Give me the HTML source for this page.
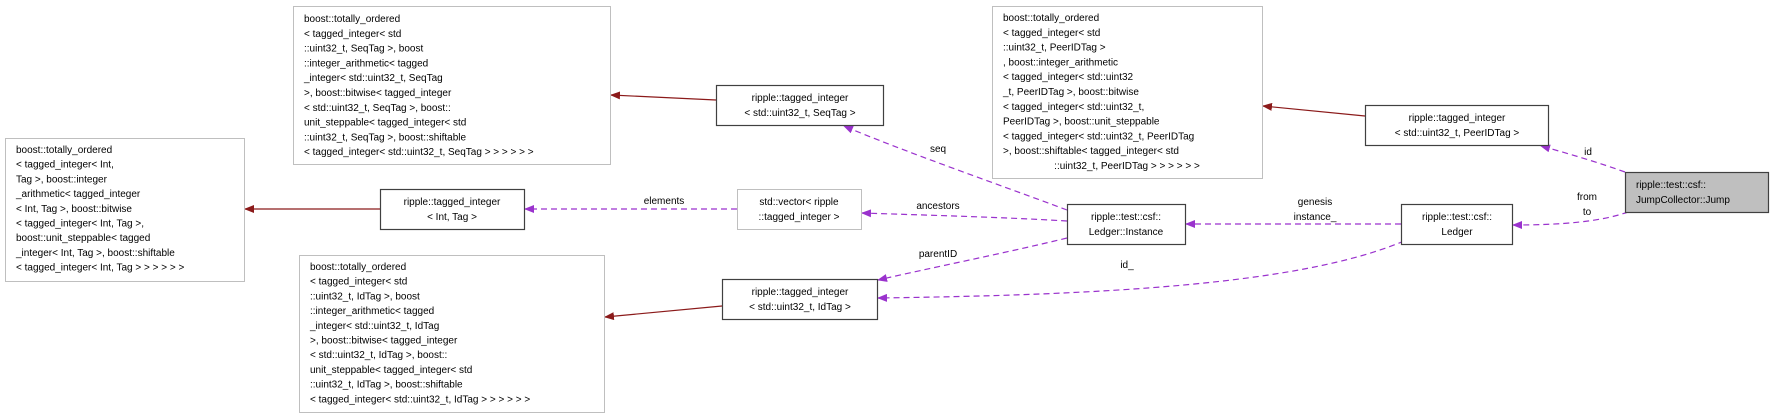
<!DOCTYPE html>
<html><head><meta charset="utf-8"><style>
html,body{margin:0;padding:0;background:#fff;}
svg{display:block;}
text{font-family:"Liberation Sans",sans-serif;font-size:10px;fill:#000;}
</style></head><body>
<svg width="1773" height="418" viewBox="0 0 1773 418" xmlns="http://www.w3.org/2000/svg">
<defs>
<marker id="ap" markerWidth="10" markerHeight="8" refX="9" refY="4" orient="auto" markerUnits="userSpaceOnUse"><path d="M0,0 L10,4 L0,8 z" fill="#9a32cd"/></marker>
<marker id="ar" markerWidth="10" markerHeight="8" refX="9" refY="4" orient="auto" markerUnits="userSpaceOnUse"><path d="M0,0 L10,4 L0,8 z" fill="#8b1a1a"/></marker>
</defs>
<g fill="none" stroke-width="1.2">
<path d="M716,100 L611,95" stroke="#8b1a1a" marker-end="url(#ar)"/>
<path d="M380,209 L245,209" stroke="#8b1a1a" marker-end="url(#ar)"/>
<path d="M722,306 L605,317" stroke="#8b1a1a" marker-end="url(#ar)"/>
<path d="M1365,116 L1263,106" stroke="#8b1a1a" marker-end="url(#ar)"/>
<g stroke="#9a32cd" stroke-dasharray="6,4">
<path d="M737,209 L525,209" marker-end="url(#ap)"/>
<path d="M1067,210 C1000,185 900,150 844,126" marker-end="url(#ap)"/>
<path d="M1067,221 C1000,217 920,215 862,213" marker-end="url(#ap)"/>
<path d="M1067,238 C1010,252 930,268 878,280" marker-end="url(#ap)"/>
<path d="M1404,241 C1300,285 1100,295 878,298" marker-end="url(#ap)"/>
<path d="M1401,224 L1186,224" marker-end="url(#ap)"/>
<path d="M1628,212 C1600,222 1560,225 1513,225" marker-end="url(#ap)"/>
<path d="M1625,172 C1600,163 1570,154 1541,146" marker-end="url(#ap)"/>
</g>
</g>
<g fill="#fff" stroke="#bfbfbf" stroke-width="1">
<rect x="293.5" y="6.5" width="317" height="158"/>
<rect x="5.5" y="138.5" width="239" height="143"/>
<rect x="299.5" y="255.5" width="305" height="157"/>
<rect x="992.5" y="6.5" width="270" height="172"/>
<rect x="737.5" y="189.5" width="124" height="40"/>
</g>
<g fill="#fff" stroke="#404040" stroke-width="1.2">
<rect x="716.5" y="85.5" width="167" height="40"/>
<rect x="380.5" y="189.5" width="144" height="40"/>
<rect x="722.5" y="279.5" width="155" height="40"/>
<rect x="1365.5" y="105.5" width="183" height="40"/>
<rect x="1067.5" y="204.5" width="118" height="40"/>
<rect x="1401.5" y="204.5" width="111" height="40"/>
<rect x="1625.5" y="172.5" width="143" height="40" fill="#bfbfbf"/>
</g>
<text x="304" y="22">boost::totally_ordered</text>
<text x="304" y="36.8">&lt; tagged_integer&lt; std</text>
<text x="304" y="51.6">::uint32_t, SeqTag &gt;, boost</text>
<text x="304" y="66.4">::integer_arithmetic&lt; tagged</text>
<text x="304" y="81.2">_integer&lt; std::uint32_t, SeqTag</text>
<text x="304" y="96"> &gt;, boost::bitwise&lt; tagged_integer</text>
<text x="304" y="110.8">&lt; std::uint32_t, SeqTag &gt;, boost::</text>
<text x="304" y="125.6">unit_steppable&lt; tagged_integer&lt; std</text>
<text x="304" y="140.4">::uint32_t, SeqTag &gt;, boost::shiftable</text>
<text x="304" y="155.2">&lt; tagged_integer&lt; std::uint32_t, SeqTag &gt; &gt; &gt; &gt; &gt; &gt;</text>
<text x="16" y="153">boost::totally_ordered</text>
<text x="16" y="167.7">&lt; tagged_integer&lt; Int,</text>
<text x="16" y="182.4"> Tag &gt;, boost::integer</text>
<text x="16" y="197.1">_arithmetic&lt; tagged_integer</text>
<text x="16" y="211.8">&lt; Int, Tag &gt;, boost::bitwise</text>
<text x="16" y="226.5">&lt; tagged_integer&lt; Int, Tag &gt;,</text>
<text x="16" y="241.2"> boost::unit_steppable&lt; tagged</text>
<text x="16" y="255.9">_integer&lt; Int, Tag &gt;, boost::shiftable</text>
<text x="16" y="270.6">&lt; tagged_integer&lt; Int, Tag &gt; &gt; &gt; &gt; &gt; &gt;</text>
<text x="310" y="270">boost::totally_ordered</text>
<text x="310" y="284.7">&lt; tagged_integer&lt; std</text>
<text x="310" y="299.4">::uint32_t, IdTag &gt;, boost</text>
<text x="310" y="314.1">::integer_arithmetic&lt; tagged</text>
<text x="310" y="328.8">_integer&lt; std::uint32_t, IdTag</text>
<text x="310" y="343.5"> &gt;, boost::bitwise&lt; tagged_integer</text>
<text x="310" y="358.2">&lt; std::uint32_t, IdTag &gt;, boost::</text>
<text x="310" y="372.9">unit_steppable&lt; tagged_integer&lt; std</text>
<text x="310" y="387.6">::uint32_t, IdTag &gt;, boost::shiftable</text>
<text x="310" y="402.3">&lt; tagged_integer&lt; std::uint32_t, IdTag &gt; &gt; &gt; &gt; &gt; &gt;</text>
<text x="1003" y="21">boost::totally_ordered</text>
<text x="1003" y="35.8">&lt; tagged_integer&lt; std</text>
<text x="1003" y="50.6">::uint32_t, PeerIDTag &gt;</text>
<text x="1003" y="65.4">, boost::integer_arithmetic</text>
<text x="1003" y="80.2">&lt; tagged_integer&lt; std::uint32</text>
<text x="1003" y="95">_t, PeerIDTag &gt;, boost::bitwise</text>
<text x="1003" y="109.8">&lt; tagged_integer&lt; std::uint32_t,</text>
<text x="1003" y="124.6"> PeerIDTag &gt;, boost::unit_steppable</text>
<text x="1003" y="139.4">&lt; tagged_integer&lt; std::uint32_t, PeerIDTag</text>
<text x="1003" y="154.2"> &gt;, boost::shiftable&lt; tagged_integer&lt; std</text>
<text x="1127" y="169" text-anchor="middle">::uint32_t, PeerIDTag &gt; &gt; &gt; &gt; &gt; &gt;</text>
<g text-anchor="middle">
<text x="800" y="101">ripple::tagged_integer</text>
<text x="800" y="116">&lt; std::uint32_t, SeqTag &gt;</text>
<text x="452" y="205">ripple::tagged_integer</text>
<text x="452" y="220">&lt; Int, Tag &gt;</text>
<text x="800" y="295">ripple::tagged_integer</text>
<text x="800" y="310">&lt; std::uint32_t, IdTag &gt;</text>
<text x="1457" y="121">ripple::tagged_integer</text>
<text x="1457" y="136">&lt; std::uint32_t, PeerIDTag &gt;</text>
<text x="799" y="205">std::vector&lt; ripple</text>
<text x="799" y="220">::tagged_integer &gt;</text>
<text x="1126" y="220">ripple::test::csf::</text>
<text x="1126" y="235">Ledger::Instance</text>
<text x="1457" y="220">ripple::test::csf::</text>
<text x="1457" y="235">Ledger</text>
<text x="664" y="204">elements</text>
<text x="938" y="152">seq</text>
<text x="938" y="209">ancestors</text>
<text x="938" y="257">parentID</text>
<text x="1127" y="268">id_</text>
<text x="1315" y="205">genesis</text>
<text x="1315" y="220">instance_</text>
<text x="1588" y="155">id</text>
<text x="1587" y="200">from</text>
<text x="1587" y="215">to</text>
</g>
<text x="1636" y="188">ripple::test::csf::</text>
<text x="1636" y="203">JumpCollector::Jump</text>
</svg>
</body></html>
